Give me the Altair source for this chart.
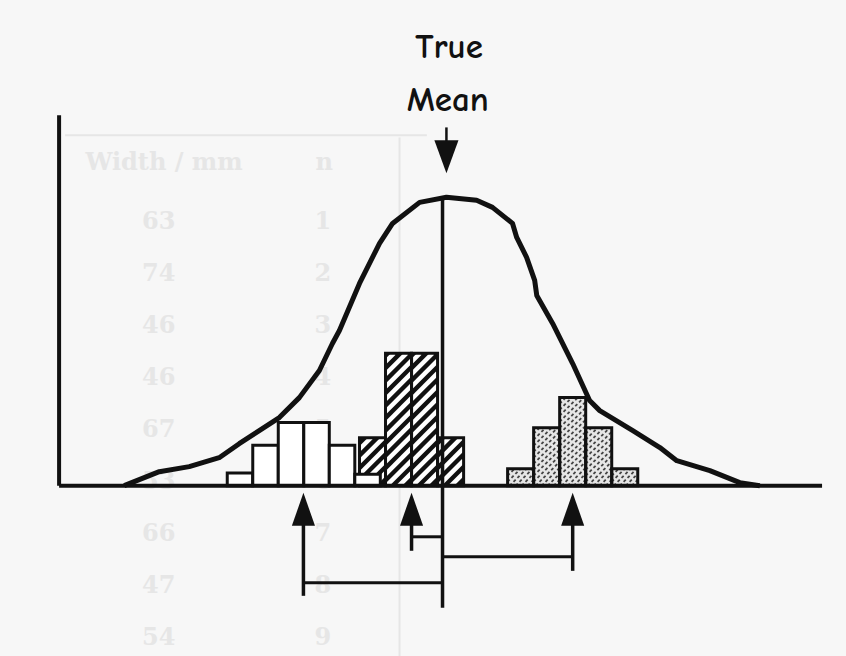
import altair as alt
import pandas as pd

# ---- three samples drawn as histograms (x in measurement units, true mean at 0) ----
left_start = [-8.27, -7.29, -6.31, -5.33, -4.35, -3.37]
left_width = 0.98
left_count = [1.0, 3.2, 5.0, 5.0, 3.2, 0.9]

mid_start = [-3.19, -2.19, -1.19, -0.19]
mid_width = 1.0
mid_count = [3.8, 10.5, 10.5, 3.8]

right_start = [2.5, 3.5, 4.5, 5.5, 6.5]
right_width = 1.0
right_count = [1.35, 4.6, 7.0, 4.6, 1.35]

# ---- population distribution curve ----
curve_x = [-12.23, -10.88, -9.73, -8.58, -7.81, -7.04, -6.27, -5.50, -4.73, -4.23,
           -3.96, -3.19, -2.42, -1.92, -0.88, 0.15, 1.31, 1.92, 2.69, 2.85, 3.23,
           3.54, 3.62, 4.23, 5.00, 5.65, 6.04, 7.31, 8.35, 9.00, 10.27, 11.42, 12.19]
curve_y = [0.0, 1.11, 1.51, 2.22, 3.33, 4.37, 5.40, 6.98, 9.13, 11.27,
           12.30, 16.03, 19.21, 20.79, 22.46, 22.86, 22.62, 22.06, 20.79, 19.68, 18.10,
           16.27, 15.08, 12.86, 9.68, 6.75, 5.95, 4.37, 3.02, 1.98, 1.19, 0.24, 0.0]

true_mean = 0.0
mean_line_bottom = -9.68

# sample-mean arrows: tail end of each shaft and height of the bracket to the true mean
arrow_tail = [-8.73, -5.16, -6.75]
bracket_y = [-7.70, -4.05, -5.63]

# axes extents
axis_x0, axis_x1 = -14.73, 14.58
axis_ytop = 29.37

# faint table showing through the paper
ghost_header = ["Width / mm", "n"]
ghost_header_x = [-10.7, -4.54]
ghost_n = ["1", "2", "3", "4", "5", "6", "7", "8", "9"]
ghost_w = ["63", "74", "46", "46", "67", "53", "66", "47", "54"]

W, H = 846, 656
XD = [-17.0, 15.5]
YD = [-13.5, 38.5]
KX = W / (XD[1] - XD[0])
KY = H / (YD[1] - YD[0])
xs = alt.Scale(domain=XD, nice=False, zero=False)
ys = alt.Scale(domain=YD, nice=False, zero=False)


def X(f="x"):
    return alt.X(f"{f}:Q", scale=xs, axis=None)


def Y(f="y"):
    return alt.Y(f"{f}:Q", scale=ys, axis=None)


def bars(starts, width, counts):
    return pd.DataFrame({
        "x": starts,
        "x2": [s + width for s in starts],
        "y": [0.0] * len(starts),
        "y2": counts,
    })


def hatch(starts, width, counts, step_px):
    # 45-degree "/" stripes clipped to each bar
    rows = []
    for s, c in zip(starts, counts):
        x0, x1, hh = s * KX, (s + width) * KX, c * KY
        k = -x1
        while k < hh - x0:
            xa, xb = max(x0, -k), min(x1, hh - k)
            if xb > xa:
                rows.append({"x": xa / KX, "y": (xa + k) / KY,
                             "x2": xb / KX, "y2": (xb + k) / KY})
            k += step_px
    return pd.DataFrame(rows)


def sample_mean(starts, width, counts):
    tot = sum(counts)
    return sum((s + width / 2) * c for s, c in zip(starts, counts)) / tot


def rect_layer(df, **kw):
    return alt.Chart(df).mark_rect(**kw).encode(
        x=X(), x2="x2:Q", y=Y(), y2="y2:Q")


def seg_layer(df, **kw):
    return alt.Chart(df).mark_rule(**kw).encode(
        x=X(), x2="x2:Q", y=Y(), y2="y2:Q")


left_df = bars(left_start, left_width, left_count)
mid_df = bars(mid_start, mid_width, mid_count)
right_df = bars(right_start, right_width, right_count)

ink = "#111111"

# ghost table
ghost_lines = pd.DataFrame({
    "x": [-14.5, -1.65], "x2": [-0.6, -1.65],
    "y": [27.78, 27.6], "y2": [27.78, -13.5],
})
ghost_rows = pd.DataFrame({
    "n": ghost_n, "w": ghost_w,
    "y": [20.87 - 4.12 * i for i in range(len(ghost_n))],
})
ghost_rows["xn"] = -4.6
ghost_rows["xw"] = -10.9
ghost_head = pd.DataFrame({"t": ghost_header, "x": ghost_header_x, "y": [25.56, 25.56]})
gcol = "#e6e6e6"
gfont = dict(fontSize=24, fontWeight="bold", color=gcol, font="DejaVu Serif", baseline="middle")
ghost = (
    seg_layer(ghost_lines, color=gcol, strokeWidth=2)
    + alt.Chart(ghost_head).mark_text(**gfont).encode(x=X(), y=Y(), text="t:N")
    + alt.Chart(ghost_rows).mark_text(**gfont).encode(x=X("xn"), y=Y(), text="n:N")
    + alt.Chart(ghost_rows).mark_text(**gfont).encode(x=X("xw"), y=Y(), text="w:N")
)

# histograms
mid_layers = (
    rect_layer(mid_df, color=ink)
    + seg_layer(hatch(mid_start, mid_width, mid_count, 12.5), color="white", strokeWidth=4.5)
    + rect_layer(mid_df, fillOpacity=0, stroke=ink, strokeWidth=3)
)
right_layers = (
    rect_layer(right_df, color="#e6e6e6")
    + seg_layer(hatch(right_start, right_width, right_count, 6.0), color="#444444",
                strokeWidth=1.8, strokeDash=[3, 2.5])
    + rect_layer(right_df, fillOpacity=0, stroke=ink, strokeWidth=3)
)
left_layers = rect_layer(left_df, fill="white", stroke=ink, strokeWidth=3)

curve_df = pd.DataFrame({"x": curve_x, "y": curve_y, "o": list(range(len(curve_x)))})
curve = alt.Chart(curve_df).mark_line(color=ink, strokeWidth=5, strokeJoin="round").encode(
    x=X(), y=Y(), order="o:Q")

axes_df = pd.DataFrame({
    "x": [axis_x0, axis_x0], "x2": [axis_x0, axis_x1],
    "y": [axis_ytop, 0.0], "y2": [0.0, 0.0],
})
axes = seg_layer(axes_df, color=ink, strokeWidth=4)

mean_df = pd.DataFrame({"x": [true_mean], "y": [curve_y[15]], "y2": [mean_line_bottom]})
mean_line = alt.Chart(mean_df).mark_rule(color=ink, strokeWidth=3.5).encode(
    x=X(), y=Y(), y2="y2:Q")

# arrows from each sample mean
means = [sample_mean(left_start, left_width, left_count),
         sample_mean(mid_start, mid_width, mid_count),
         sample_mean(right_start, right_width, right_count)]
head_df = pd.DataFrame({"x": means, "y": [-1.87] * 3})
shaft_df = pd.DataFrame({"x": means, "x2": means, "y": [-3.1] * 3, "y2": arrow_tail})
bracket_df = pd.DataFrame({"x": means, "x2": [true_mean] * 3, "y": bracket_y, "y2": bracket_y})
arrows = (
    seg_layer(shaft_df, color=ink, strokeWidth=3.5)
    + seg_layer(bracket_df, color=ink, strokeWidth=3)
    + alt.Chart(head_df).mark_point(shape="M0,-1L0.7,1L-0.7,1Z", filled=True, size=1089,
                                    color=ink, opacity=1, strokeWidth=0).encode(x=X(), y=Y())
)

# "True Mean" label and arrow
lab_df = pd.DataFrame({"t": ["True", "Mean"], "x": [0.25, 0.2], "y": [33.89, 29.72]})
label = alt.Chart(lab_df).mark_text(
    fontSize=35, fontWeight="bold", font="Comic Sans MS, Comic Neue, DejaVu Sans", color=ink,
    baseline="alphabetic", align="center").encode(x=X(), y=Y(), text="t:N")
tm_shaft = pd.DataFrame({"x": [0.15], "x2": [0.15], "y": [28.4], "y2": [27.2]})
tm_head = pd.DataFrame({"x": [0.15], "y": [26.07]})
tm_arrow = (
    seg_layer(tm_shaft, color=ink, strokeWidth=2.5)
    + alt.Chart(tm_head).mark_point(shape="M0,1L0.73,-1L-0.73,-1Z", filled=True, size=1089,
                                    color=ink, opacity=1, strokeWidth=0).encode(x=X(), y=Y())
)

chart = alt.layer(
    ghost, mid_layers, right_layers, left_layers, curve, axes, mean_line, arrows, label, tm_arrow
).properties(
    width=W, height=H, padding=0, autosize=alt.AutoSizeParams(type="none"),
    background="#f7f7f7",
).configure_view(strokeWidth=0)

chart.save("out.html", embed_options={"renderer": "svg", "actions": False})
